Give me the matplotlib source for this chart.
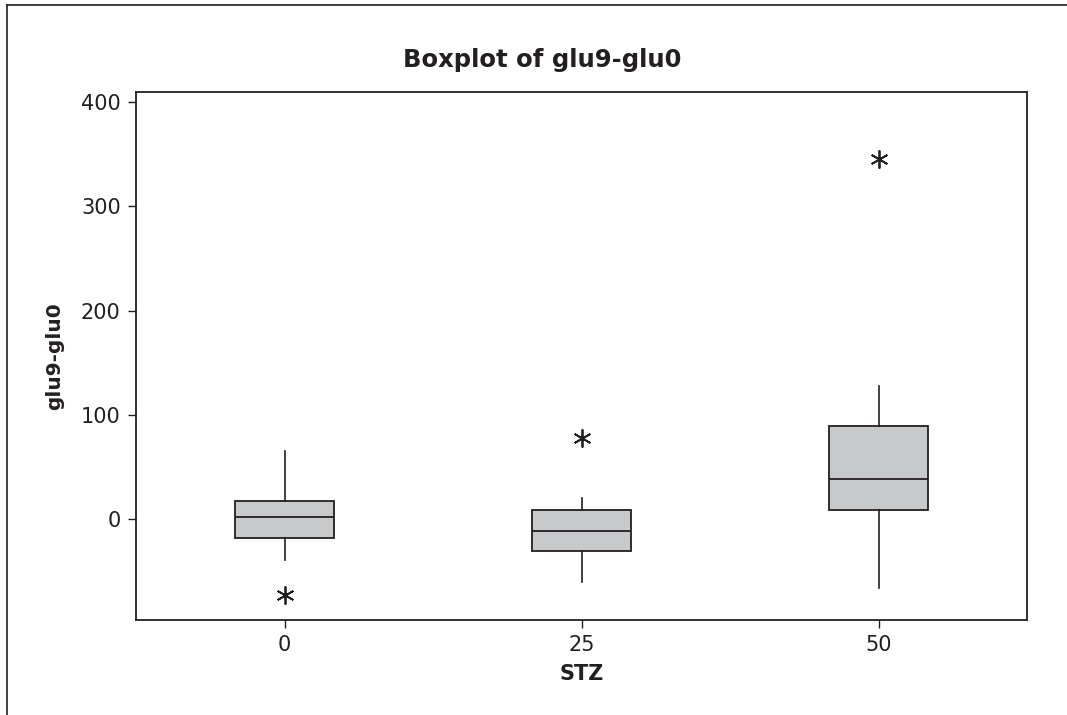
import matplotlib.pyplot as plt
from matplotlib.lines import Line2D

# dados (STZ vs glu9-glu0)
doses = ["0", "25", "50"]
q1 = [-18.2, -31.0, 8.6]
mediana = [1.6, -11.2, 38.6]
q3 = [17.5, 8.6, 89.2]
whisker_baixo = [-39.3, -60.7, -66.5]
whisker_alto = [65.0, 20.4, 127.5]
outliers = [[-72.9], [77.4], [345.8]]

cor_linha = "#231f20"
cor_caixa = "#c8c9cb"

stats = []
for i in range(len(doses)):
    stats.append({
        "label": doses[i],
        "q1": q1[i], "med": mediana[i], "q3": q3[i],
        "whislo": whisker_baixo[i], "whishi": whisker_alto[i],
        "fliers": outliers[i],
    })

fig = plt.figure(figsize=(10.67, 7.15), dpi=100)
ax = fig.add_axes([136 / 1067, 1 - 620 / 715, (1027 - 136) / 1067, (620 - 92) / 715])

ax.bxp(stats, positions=range(len(doses)), widths=0.334, patch_artist=True,
       showcaps=False,
       boxprops=dict(facecolor=cor_caixa, edgecolor=cor_linha, linewidth=1.3),
       medianprops=dict(color=cor_linha, linewidth=1.3),
       whiskerprops=dict(color=cor_linha, linewidth=1.2),
       flierprops=dict(marker=(6, 2, 0), markersize=13, markeredgecolor=cor_linha,
                       markeredgewidth=1.3, linestyle="none"))

ax.set_xlim(-0.5, 2.5)
ax.set_ylim(-96.8, 409.6)
ax.set_yticks([0, 100, 200, 300, 400])
ax.set_xticks(range(len(doses)))
ax.set_xticklabels(doses)
ax.tick_params(direction="out", length=6, width=1, color=cor_linha, pad=5,
               labelsize=15, labelcolor=cor_linha, top=False, right=False)
for s in ax.spines.values():
    s.set_color(cor_linha)
    s.set_linewidth(1.3)

ax.set_xlabel("STZ", fontsize=15, fontweight="bold", color=cor_linha, labelpad=6)
ax.set_ylabel("glu9-glu0", fontsize=14.5, fontweight="bold", color=cor_linha, labelpad=12)
fig.text(542 / 1067, 1 - 60 / 715, "Boxplot of glu9-glu0", fontsize=17.5,
         fontweight="bold", color=cor_linha, ha="center", va="center")

# moldura externa (só esquerda e topo aparecem)
fig.add_artist(Line2D([7 / 1067, 7 / 1067], [0, 1 - 5 / 715], color=cor_linha, linewidth=1.2))
fig.add_artist(Line2D([7 / 1067, 1], [1 - 5 / 715, 1 - 5 / 715], color=cor_linha, linewidth=1.2))

plt.savefig("out.png", dpi=100)
